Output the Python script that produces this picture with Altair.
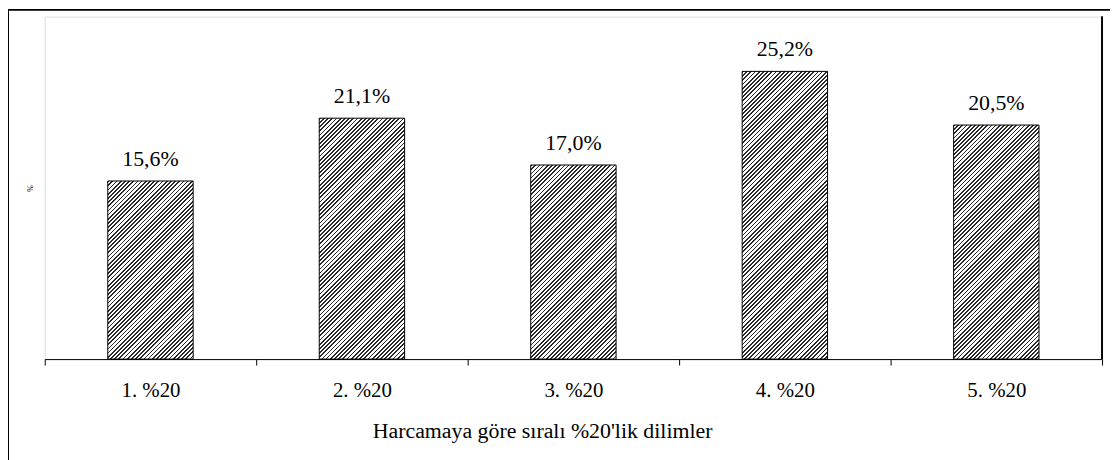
import altair as alt
import pandas as pd

categories = ["1. %20", "2. %20", "3. %20", "4. %20", "5. %20"]
values = [15.6, 21.1, 17.0, 25.2, 20.5]
labels = ["15,6%", "21,1%", "17,0%", "25,2%", "20,5%"]

df = pd.DataFrame({"cat": categories, "val": values, "lab": labels})

W, H = 1065, 345
YMAX = 30
BAR_W = 86
PERIOD = 4.2
DARK = 0.42

FONT = "Liberation Serif"


def hatch(v):
    h = v / YMAX * H
    w = BAR_W
    du, dv = 1.0 / h, 1.0 / w
    k = (du + dv) / (du * du + dv * dv)
    n = int(round((w + h) / PERIOD))
    stops = []
    for i in range(n):
        a = i / n
        b = (i + DARK) / n
        c = (i + 1) / n
        stops += [
            {"offset": a, "color": "#2a2a2a"},
            {"offset": b, "color": "#2a2a2a"},
            {"offset": b, "color": "#ffffff"},
            {"offset": c, "color": "#ffffff"},
        ]
    return {"gradient": "linear", "x1": 0, "y1": 0, "x2": k * du, "y2": k * dv, "stops": stops}


x_enc = alt.X(
    "cat:N",
    sort=categories,
    scale=alt.Scale(paddingInner=0, paddingOuter=0),
    axis=alt.Axis(
        title="Harcamaya göre sıralı %20'lik dilimler",
        labelAngle=0,
        tickBand="extent",
        tickSize=6,
        tickColor="black",
        domainColor="black",
        labelFont=FONT,
        labelFontSize=21,
        labelColor="black",
        labelPadding=15,
        titleFont=FONT,
        titleFontSize=22,
        titleFontWeight="normal",
        titleColor="black",
        titlePadding=20,
        titleX=501,
        titleAlign="center",
    ),
)
y_enc = alt.Y(
    "val:Q",
    scale=alt.Scale(domain=[0, YMAX]),
    axis=alt.Axis(
        title="%",
        labels=False,
        ticks=False,
        domain=False,
        grid=False,
        titleFont=FONT,
        titleFontSize=8,
        titleFontWeight="normal",
        titleColor="black",
        titlePadding=10,
    ),
)

layers = []
for cat, v in zip(categories, values):
    layers.append(
        alt.Chart(df)
        .transform_filter(alt.datum.cat == cat)
        .mark_bar(width=BAR_W, fill=hatch(v), stroke="black", strokeWidth=1)
        .encode(x=x_enc, y=y_enc)
    )

text = (
    alt.Chart(df)
    .mark_text(font=FONT, fontSize=22, dy=-15, baseline="alphabetic", color="black")
    .encode(x=x_enc, y=y_enc, text="lab:N")
)

right_edge = alt.Chart(df).mark_rule(color="black", strokeWidth=1).encode(
    x=alt.value(W), y=alt.value(0), y2=alt.value(H)
)

frame = alt.Chart(df).mark_rect(fill=None, stroke="black", strokeWidth=1.5).encode(
    x=alt.value(-37), x2=alt.value(W + 30), y=alt.value(-7), y2=alt.value(H + 130)
)

chart = (
    alt.layer(*layers, text, right_edge, frame)
    .properties(
        width=W,
        height=H,
        autosize=alt.AutoSizeParams(type="none"),
        padding={"left": 37, "top": 7, "right": 8, "bottom": 100},
    )
    .configure_view(stroke="#808080", strokeWidth=1.5)
    .configure(background="white")
)

chart.save("out.html", embed_options={"renderer": "svg", "actions": False})
